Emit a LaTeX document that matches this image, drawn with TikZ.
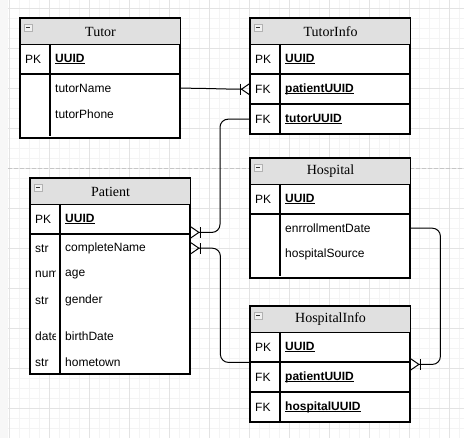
\documentclass[tikz,border=0pt]{standalone}
\usepackage{fontspec}
\setmainfont{Liberation Serif}
\newfontfamily\arial{Liberation Sans}
\usetikzlibrary{arrows.meta}
\definecolor{headgray}{HTML}{E0E0E0}
\definecolor{gridfine}{HTML}{F4F4F4}
\definecolor{gridmajor}{HTML}{E3E3E3}
\newlength{\uidlen}
\newcommand{\uid}[1]{\settowidth{\uidlen}{\textbf{#1}}\textbf{#1}\hspace{-\uidlen}\rule[-1.7pt]{\uidlen}{0.8pt}}
\tikzset{
  tbl/.style={draw, fill=white, line width=1.1pt},
  sep/.style={line width=1.1pt},
  head/.style={draw, fill=headgray, line width=1.1pt, anchor=north west, minimum width=160pt, minimum height=26pt, inner sep=0pt, font=\fontsize{14}{16}\selectfont},
  key/.style={anchor=north west, text width=20pt, inner xsep=5pt, inner ysep=0pt, align=left, minimum height=30pt, font=\arial\fontsize{12}{14}\selectfont},
  field/.style={anchor=north west, text width=120pt, inner xsep=5pt, inner ysep=0pt, align=left, minimum height=30pt, font=\arial\fontsize{12}{14}\selectfont},
  attr/.style={minimum height=26pt},
  link/.style={line width=1pt},
  crowend/.style={-{Bar[width=11pt,sep=0pt]Straight Barb[reversed,length=8pt,width=11pt,sep=0pt]}},
  crowstart/.style={{Straight Barb[reversed,length=8pt,width=11pt,sep=0pt]Bar[width=11pt,sep=0pt]}-},
  fold/.pic={
    \draw[gray!60, fill=gray!12, line width=0.6pt] (0,0) rectangle (8,7);
    \draw[gray!40!black, line width=0.9pt] (2,3.5) -- (6,3.5);
  }
}
\begin{document}
\begin{tikzpicture}[x=1pt, y=-1pt]
	\useasboundingbox (0,0) rectangle (464,438);
	% page background and grid
	\fill[gray!6] (0,0) rectangle (8,438);
	\foreach \x in {9,19,...,459} \draw[gridfine] (\x,0) -- (\x,438);
	\foreach \y in {8,18,...,438} \draw[gridfine] (8,\y) -- (464,\y);
	\foreach \x in {9,49,...,449} \draw[gridmajor] (\x,0) -- (\x,438);
	\foreach \y in {8,48,...,408} \draw[gridmajor] (8,\y) -- (464,\y);
	\draw[gray!45, dash pattern=on 4pt off 2pt] (8,168) -- (464,168);%page break

	% Tutor
	\draw[tbl] (20,18) rectangle (180,138);
	\node[head] (tutorHead) at (20,18) {Tutor};
	\pic at (24,24) {fold};
	\node[key] (tutorPK) at (20,44) {PK};
	\node[field] (tutorUUID) at (50,44) {\uid{UUID}};
	\node[field,attr] (tutorName) at (50,75) {tutorName};
	\node[field,attr] (tutorPhone) at (50,101) {tutorPhone};
	\draw[sep] (20,74) -- (180,74) (50,44) -- (50,136);

	% TutorInfo
	\draw[tbl] (250,18) rectangle (410,134);
	\node[head] (tiHead) at (250,18) {TutorInfo};
	\pic at (254,24) {fold};
	\node[key] (tiPK) at (250,44) {PK};
	\node[field] (tiUUID) at (280,44) {\uid{UUID}};
	\node[key] (tiFKpat) at (250,74) {FK};
	\node[field] (tiPat) at (280,74) {\uid{patientUUID}};
	\node[key] (tiFKtut) at (250,104) {FK};
	\node[field] (tiTut) at (280,104) {\uid{tutorUUID}};
	\draw[sep] (250,74) -- (410,74) (250,104) -- (410,104) (280,44) -- (280,134);

	% Hospital
	\draw[tbl] (250,158) rectangle (410,278);
	\node[head] (hHead) at (250,158) {Hospital};
	\pic at (254,164) {fold};
	\node[key] (hPK) at (250,184) {PK};
	\node[field] (hUUID) at (280,184) {\uid{UUID}};
	\node[field,attr] (hDate) at (280,215) {enrrollmentDate};
	\node[field,attr] (hSource) at (280,241) {hospitalSource};
	\draw[sep] (250,214) -- (410,214) (280,184) -- (280,276);

	% HospitalInfo
	\draw[tbl] (250,306) rectangle (410,422);
	\node[head] (hiHead) at (250,306) {HospitalInfo};
	\pic at (254,312) {fold};
	\node[key] (hiPK) at (250,332) {PK};
	\node[field] (hiUUID) at (280,332) {\uid{UUID}};
	\node[key] (hiFKpat) at (250,362) {FK};
	\node[field] (hiPat) at (280,362) {\uid{patientUUID}};
	\node[key] (hiFKhos) at (250,392) {FK};
	\node[field] (hiHos) at (280,392) {\uid{hospitalUUID}};
	\draw[sep] (250,362) -- (410,362) (250,392) -- (410,392) (280,332) -- (280,422);

	% Patient
	\draw[tbl] (30,178) rectangle (190,374);
	\node[head] (pHead) at (30,178) {Patient};
	\pic at (34,184) {fold};
	\node[key] (pPK) at (30,204) {PK};
	\node[field] (pUUID) at (60,204) {\uid{UUID}};
	\begin{scope}
		\clip (30,234) rectangle (55,374);%type column cuts long names
		\node[key,attr] (pTypeName) at (30,235) {str};
		\node[key,attr] (pTypeAge) at (30,261) {num};
		\node[key,attr] (pTypeGender) at (30,287) {str};
		\node[key,attr] (pTypeBirth) at (30,323) {date};
		\node[key,attr] (pTypeTown) at (30,349) {str};
	\end{scope}
	\node[field,attr] (pName) at (60,235) {completeName};
	\node[field,attr] (pAge) at (60,261) {age};
	\node[field,attr] (pGender) at (60,287) {gender};
	\node[field,attr] (pBirth) at (60,323) {birthDate};
	\node[field,attr] (pTown) at (60,349) {hometown};
	\draw[sep] (30,234) -- (190,234) (60,204) -- (60,374);

	% relations
	\draw[link, crowend] (tutorName.east) to[out=0, in=180] (tiFKpat.west);
	\draw[link, crowend, rounded corners=8pt] (tiFKtut.west) -- ++(-30,0) |- ([yshift=2pt]pUUID.south east);
	\draw[link, crowstart, rounded corners=8pt] (pName.east) -- ++(30,0) |- (hiPK.south west);
	\draw[link, crowend, rounded corners=8pt] (hDate.east) -- ++(30,0) |- ([yshift=-2pt]hiUUID.south east);
\end{tikzpicture}
\end{document}
